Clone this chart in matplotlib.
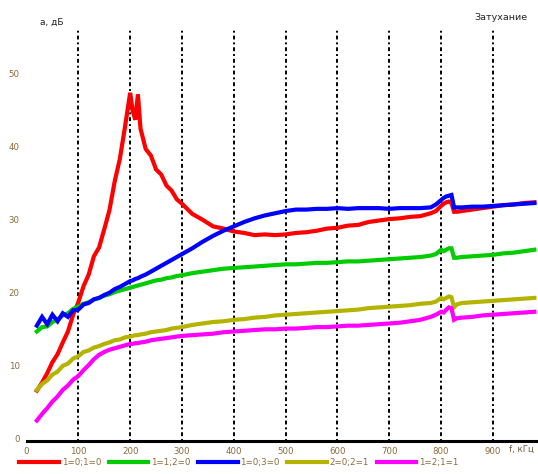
import matplotlib
matplotlib.use("Agg")
import matplotlib.pyplot as plt

# Frequency grid, kHz
freq = [20, 30, 40, 50, 60, 70, 80, 90, 100, 110, 120, 130, 140, 150, 160, 170, 180, 190,
        200, 205, 210, 215, 220, 230, 240, 250, 260, 270, 280, 290, 300, 320, 340, 360, 380,
        400, 420, 440, 460, 480, 500, 520, 540, 560, 580, 600, 620, 640, 660, 680, 700, 720,
        740, 760, 780, 790, 800, 805, 810, 815, 820, 825, 830, 840, 860, 880, 900, 920, 940,
        960, 980]

# Attenuation, dB
att_red = [6.5, 7.6, 8.9, 10.4, 11.5, 13.1, 14.6, 16.9, 18.6, 20.8, 22.4, 24.9, 26.1, 28.6,
           31.2, 35.1, 38.2, 42.6, 47.3, 44.8, 43.6, 47.1, 42.4, 39.6, 38.7, 36.8, 36.1, 34.6,
           33.9, 32.7, 32.1, 30.7, 29.9, 29.0, 28.7, 28.3, 28.1, 27.8, 27.9, 27.8, 27.9, 28.1,
           28.2, 28.4, 28.7, 28.8, 29.1, 29.2, 29.6, 29.8, 30.0, 30.1, 30.3, 30.4, 30.8, 31.1,
           31.8, 32.1, 32.3, 32.4, 32.2, 31.0, 31.0, 31.1, 31.3, 31.5, 31.7, 31.9, 32.0, 32.2,
           32.3]
att_green = [14.6, 15.2, 15.3, 15.9, 16.2, 16.8, 17.1, 17.7, 18.0, 18.4, 18.6, 19.0, 19.2,
             19.5, 19.7, 20.0, 20.2, 20.4, 20.6, 20.7, 20.8, 20.9, 21.0, 21.2, 21.4, 21.6,
             21.7, 21.9, 22.0, 22.2, 22.3, 22.6, 22.8, 23.0, 23.2, 23.3, 23.4, 23.5, 23.6,
             23.7, 23.8, 23.8, 23.9, 24.0, 24.0, 24.1, 24.2, 24.2, 24.3, 24.4, 24.5, 24.6,
             24.7, 24.8, 25.0, 25.2, 25.8, 25.6, 25.8, 26.0, 26.0, 24.7, 24.7, 24.8, 24.9,
             25.0, 25.1, 25.3, 25.4, 25.6, 25.8]
att_blue = [15.4, 16.6, 15.6, 16.9, 16.0, 17.1, 16.6, 17.5, 17.6, 18.3, 18.5, 19.0, 19.2,
            19.6, 19.9, 20.4, 20.7, 21.1, 21.5, 21.6, 21.8, 21.9, 22.1, 22.4, 22.8, 23.2,
            23.6, 24.0, 24.4, 24.8, 25.2, 26.0, 26.9, 27.7, 28.4, 29.0, 29.6, 30.1, 30.5,
            30.8, 31.1, 31.3, 31.3, 31.4, 31.4, 31.5, 31.4, 31.5, 31.5, 31.5, 31.4, 31.5,
            31.5, 31.5, 31.6, 32.0, 32.6, 32.9, 33.1, 33.2, 33.3, 31.6, 31.6, 31.6, 31.7,
            31.7, 31.8, 31.9, 32.0, 32.1, 32.2]
att_olive = [6.6, 7.4, 7.9, 8.7, 9.1, 9.9, 10.2, 10.9, 11.2, 11.8, 12.0, 12.4, 12.6, 12.9,
             13.1, 13.4, 13.5, 13.8, 13.9, 14.0, 14.1, 14.1, 14.2, 14.3, 14.5, 14.6, 14.7,
             14.8, 15.0, 15.1, 15.2, 15.5, 15.7, 15.9, 16.0, 16.2, 16.3, 16.5, 16.6, 16.8,
             16.9, 17.0, 17.1, 17.2, 17.3, 17.4, 17.5, 17.6, 17.8, 17.9, 18.0, 18.1, 18.2,
             18.4, 18.5, 18.7, 19.2, 19.0, 19.2, 19.4, 19.3, 17.9, 18.3, 18.5, 18.6, 18.7,
             18.8, 18.9, 19.0, 19.1, 19.2]
att_magenta = [2.4, 3.3, 4.1, 5.0, 5.7, 6.6, 7.2, 8.0, 8.5, 9.3, 10.0, 10.8, 11.4, 11.8,
               12.1, 12.3, 12.5, 12.7, 12.9, 12.9, 13.0, 13.0, 13.1, 13.2, 13.4, 13.5, 13.6,
               13.7, 13.8, 13.9, 14.0, 14.1, 14.2, 14.3, 14.5, 14.6, 14.7, 14.8, 14.9, 14.9,
               15.0, 15.0, 15.1, 15.2, 15.2, 15.3, 15.4, 15.4, 15.5, 15.6, 15.7, 15.8, 16.0,
               16.2, 16.6, 16.9, 17.3, 17.2, 17.6, 17.9, 17.8, 16.2, 16.4, 16.5, 16.6, 16.8,
               16.9, 17.0, 17.1, 17.2, 17.3]

series_labels = ["1=0;1=0", "1=1;2=0", "1=0;3=0", "2=0;2=1", "1=2;1=1"]
series_colors = ["#ff0000", "#00cc00", "#0000ff", "#b4b400", "#ff00ff"]
x_ticks = [0, 100, 200, 300, 400, 500, 600, 700, 800, 900]
y_ticks = [0, 10, 20, 30, 40, 50]

W, H = 538, 474
fig = plt.figure(figsize=(W / 100, H / 100), dpi=100)
ax = fig.add_axes([26.5 / W, (H - 441) / H, 1 - 26.5 / W, (441 - 30) / H])

for vals, col, lab in zip([att_red, att_green, att_blue, att_olive, att_magenta],
                          series_colors, series_labels):
    ax.plot(freq, vals, color=col, lw=3.0, label=lab, solid_joinstyle="miter")

ax.set_xlim(0, 987)
ax.set_ylim(-0.4, 55.9)
ax.set_xticks(x_ticks)
ax.set_yticks(y_ticks)
ax.set_xticklabels([str(v) for v in x_ticks], fontsize=6.2, color="#8a6a3a")
ax.set_yticklabels([str(v) for v in y_ticks], fontsize=6.2, color="#8a6a3a")
ax.tick_params(axis="both", length=0)
ax.tick_params(axis="x", pad=4)
ax.tick_params(axis="y", pad=5)

for v in x_ticks[1:]:
    ax.axvline(v, color="black", lw=1.4, ls=(0, (1, 1.5, 2, 1.5)), zorder=0)

for s in ["left", "right", "top"]:
    ax.spines[s].set_visible(False)
ax.spines["bottom"].set_linewidth(2.2)
ax.spines["bottom"].set_color("black")

fig.text(40 / W, 1 - 22 / H, "a, дБ", fontsize=6.5, color="#222222", va="center")
fig.text(474 / W, 1 - 17 / H, "Затухание", fontsize=6.8, color="#222222", va="center")
fig.text(509 / W, 1 - 449 / H, "f, кГц", fontsize=6.2, color="#6a5a3a", va="center")

fig.legend(loc="center left", bbox_to_anchor=(16 / W, 1 - 463 / H), ncol=5,
           frameon=False, fontsize=6.2, handlelength=4.6, handletextpad=0.3,
           columnspacing=0.9, borderaxespad=0, labelcolor="#8a6a3a")

fig.savefig("out.png", dpi=100)
